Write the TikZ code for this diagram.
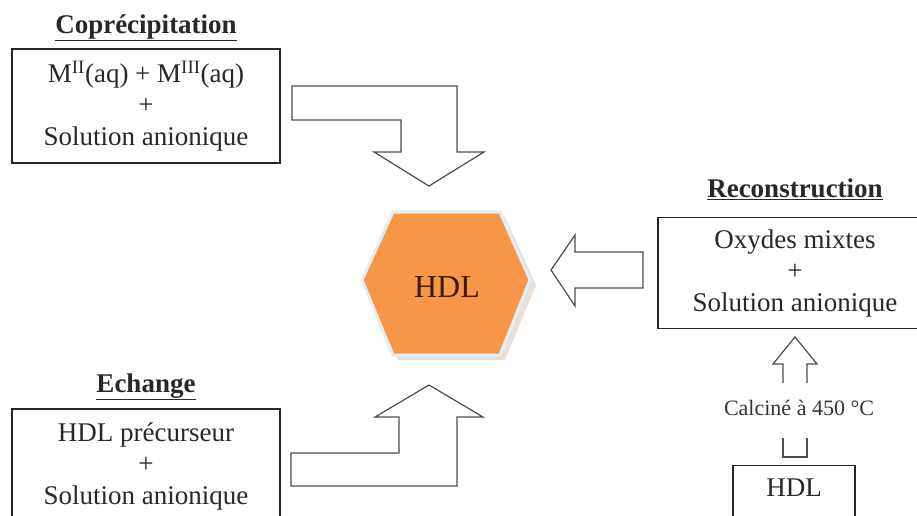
\documentclass[tikz,border=0pt]{standalone}
\usepackage{fontspec}
\setmainfont{Liberation Serif}
\definecolor{hexorange}{RGB}{247,150,70}
\definecolor{txtgray}{RGB}{40,40,40}
\definecolor{shadowbeige}{RGB}{232,224,216}
\definecolor{glowblue}{RGB}{225,238,248}
\definecolor{hextext}{RGB}{60,25,10}
\begin{document}
\begin{tikzpicture}[x=1pt,y=-1pt,
  txt/.style={font=\fontsize{27}{31.5}\selectfont, text=txtgray, align=center, inner sep=0pt},
  ttl/.style={font=\fontsize{27}{31.5}\selectfont\bfseries, text=txtgray, inner sep=0pt, anchor=base},
  boxl/.style={draw=black!85, line width=1.4pt, inner sep=0pt},
  blk/.style={draw=black!70, line width=1.2pt, fill=white, line join=miter},
  small/.style={font=\fontsize{22}{26}\selectfont, text=black!80, inner sep=0pt, anchor=base}
]
\useasboundingbox (0,0) rectangle (917,515);
\clip (0,0) rectangle (917,515);

% titles
\node[ttl] (t1) at (146,33) {\underline{Coprécipitation}};
\node[ttl] (t2) at (795,197) {\underline{Reconstruction}};
\node[ttl] (t3) at (146,392) {\underline{Echange}};

% boxes
\node[boxl, txt, minimum width=268, minimum height=114] (b1) at (146,106)
  {M\textsuperscript{II}(aq) + M\textsuperscript{III}(aq)\\+\\Solution anionique};
\node[boxl, txt, minimum width=274, minimum height=111] (b2) at (795,273)
  {Oxydes mixtes\\+\\Solution anionique};
\node[boxl, txt, minimum width=268, minimum height=114] (b3) at (146,466)
  {HDL précurseur\\+\\Solution anionique};
\node[boxl, txt, minimum width=122, minimum height=60, text depth=16pt, anchor=north] (b4) at (794,465) {HDL};

% hexagon
\fill[shadowbeige] (367,285) -- (398,217) -- (505,217) -- (536,285) -- (505,360) -- (398,360) -- cycle;
\draw[glowblue, line width=3pt, fill=hexorange] (362,280) -- (393,212) -- (500,212) -- (530,280) -- (500,355) -- (393,355) -- cycle;
\node[font=\fontsize{32}{36}\selectfont, text=hextext, inner sep=0pt] (hdl) at (447,287) {HDL};

% block arrows
\draw[blk] (292,86) -- (457,86) -- (457,152) -- (484,152) -- (429,186) -- (374,152)
  -- (401,152) -- (401,120) -- (292,120) -- cycle;
\draw[blk] (291,486) -- (457,486) -- (457,417) -- (483,417) -- (429,385) -- (375,417)
  -- (399,417) -- (399,453) -- (291,453) -- cycle;
\draw[blk] (551,270) -- (575,235) -- (575,252) -- (643,252) -- (643,288) -- (575,288)
  -- (575,306) -- cycle;
\draw[blk, fill=none] (783,383) -- (783,364) -- (773,364) -- (795,337) -- (817,364) -- (807,364) -- (807,383);
\draw[blk, fill=none] (783,438) -- (783,457) -- (807,457) -- (807,438);
\node[small] (cal) at (799,415) {Calciné à 450 °C};
\end{tikzpicture}
\end{document}
